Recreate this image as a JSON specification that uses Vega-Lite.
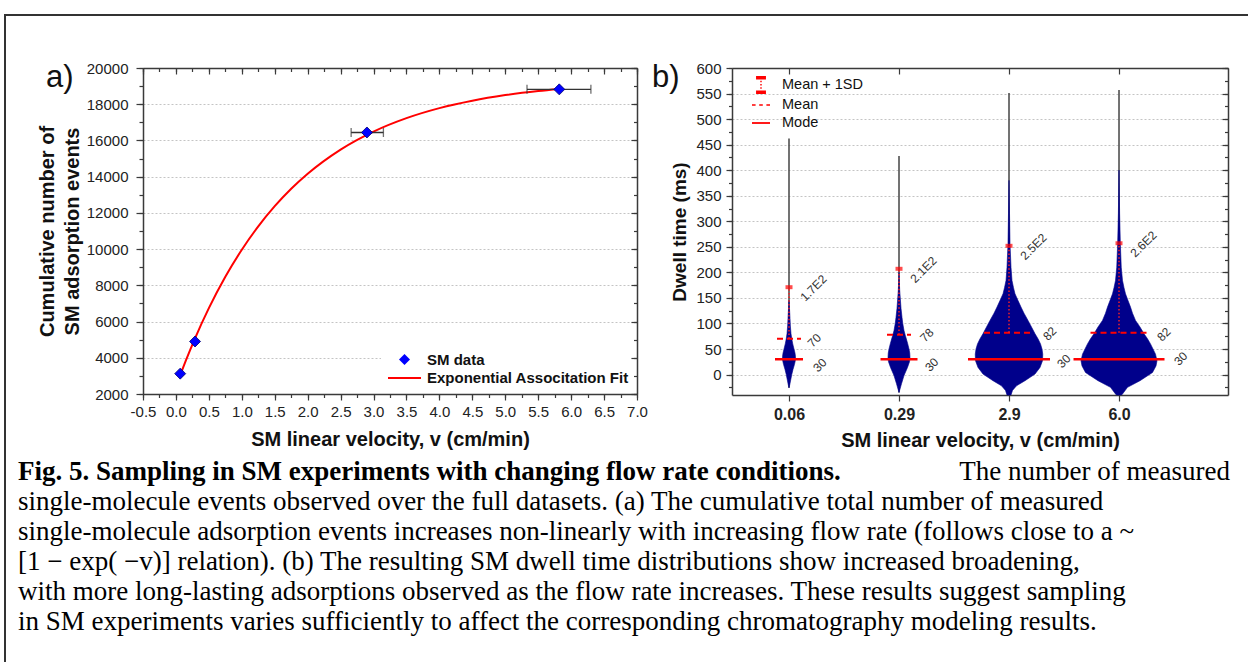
{
"$schema": "https://vega.github.io/schema/vega-lite/v6.json",
"padding": {"left": 4, "top": 14, "right": 0, "bottom": 0},
"background": "white",
"config": {
  "view": {"stroke": null},
  "axis": {"grid": false, "domainColor": "#3a3a3a", "domainWidth": 1.5, "tickColor": "#3a3a3a", "tickWidth": 1.2, "labelFont": "Liberation Sans", "titleFont": "Liberation Sans", "labelFontSize": 15, "labelColor": "#222222", "titleFontSize": 20, "titleFontWeight": "bold", "titleColor": "#111111", "labelFlush": false, "labelOverlap": false, "gridColor": "#c4c4c4", "gridDash": [2, 2], "gridWidth": 1},
  "legend": {"labelFont": "Liberation Sans", "labelLimit": 400},
  "title": {"font": "Liberation Sans"}
},
"datasets": {
  "fit": [{"v":0.06,"n":3000},{"v":0.15,"n":3845},{"v":0.29,"n":5075},{"v":0.5,"n":6739},{"v":0.75,"n":8471},{"v":1.0,"n":9965},{"v":1.25,"n":11256},{"v":1.5,"n":12369},{"v":1.75,"n":13330},{"v":2.0,"n":14162},{"v":2.5,"n":15497},{"v":3.0,"n":16491},{"v":3.5,"n":17232},{"v":4.0,"n":17785},{"v":4.5,"n":18196},{"v":5.0,"n":18503},{"v":5.5,"n":18731},{"v":5.82,"n":18846}],
  "pts": [{"v":0.065,"n":3125},{"v":0.29,"n":4900},{"v":2.9,"n":16440},{"v":5.82,"n":18820}],
  "err": [{"n":16440,"xlo":2.66,"xhi":3.15},{"n":18820,"xlo":5.33,"xhi":6.3}],
  "groups": [
    {"group":"0.06","min":-26,"max":462,"mode":30,"mean":70,"msd":171,"msdLabel":"1.7E2"},
    {"group":"0.29","min":-35,"max":428,"mode":30,"mean":78,"msd":207,"msdLabel":"2.1E2"},
    {"group":"2.9","min":-40,"max":551,"mode":30,"mean":82,"msd":252,"msdLabel":"2.5E2"},
    {"group":"6.0","min":-40,"max":557,"mode":30,"mean":82,"msd":257,"msdLabel":"2.6E2"}
  ],
  "v1": [{"v":-26,"density":0},{"v":-20,"density":1.5},{"v":-10,"density":3.5},{"v":0,"density":5.5},{"v":10,"density":8},{"v":20,"density":11},{"v":28,"density":12.8},{"v":35,"density":13},{"v":42,"density":12},{"v":50,"density":10},{"v":60,"density":7.5},{"v":70,"density":5.5},{"v":80,"density":4},{"v":95,"density":2.7},{"v":110,"density":2},{"v":125,"density":1.2},{"v":145,"density":0}],
  "v2": [{"v":-35,"density":0},{"v":-30,"density":1.5},{"v":-18,"density":5},{"v":-2,"density":10},{"v":14,"density":17},{"v":25,"density":21},{"v":33,"density":22},{"v":42,"density":21.5},{"v":50,"density":20},{"v":60,"density":17.5},{"v":67,"density":15.5},{"v":77,"density":12.5},{"v":86,"density":10},{"v":100,"density":7.5},{"v":112,"density":6},{"v":130,"density":4},{"v":150,"density":2.5},{"v":165,"density":1.4},{"v":185,"density":0.5},{"v":200,"density":0}],
  "v3": [{"v":-40,"density":4},{"v":-31,"density":7},{"v":-22,"density":15},{"v":-12,"density":32},{"v":1,"density":52},{"v":14,"density":62},{"v":27,"density":67},{"v":40,"density":67.5},{"v":50,"density":66},{"v":60,"density":63},{"v":70,"density":58},{"v":80,"density":52},{"v":93,"density":45},{"v":106,"density":38},{"v":120,"density":30},{"v":132,"density":24},{"v":145,"density":18},{"v":158,"density":12},{"v":170,"density":9},{"v":184,"density":6},{"v":210,"density":4},{"v":256,"density":2},{"v":316,"density":1},{"v":380,"density":0}],
  "v4": [{"v":-40,"density":5},{"v":-38,"density":7},{"v":-25,"density":17},{"v":-12,"density":42},{"v":4,"density":67},{"v":17,"density":74},{"v":27,"density":76},{"v":40,"density":73},{"v":50,"density":68},{"v":60,"density":63},{"v":70,"density":57},{"v":80,"density":50},{"v":93,"density":42},{"v":106,"density":33},{"v":120,"density":27},{"v":132,"density":23},{"v":145,"density":18},{"v":158,"density":13},{"v":170,"density":10},{"v":184,"density":7},{"v":210,"density":4.5},{"v":256,"density":2.7},{"v":316,"density":1.2},{"v":400,"density":0}],
  "captionBold": [{"line":1,"text":"Fig. 5. Sampling in SM experiments with changing flow rate conditions."}],
  "captionRight": [{"line":1,"text":"The number of measured"}],
  "captionBody": [
    {"line":2,"text":"single-molecule events observed over the full datasets. (a) The cumulative total number of measured"},
    {"line":3,"text":"single-molecule adsorption events increases non-linearly with increasing flow rate (follows close to a ~"},
    {"line":4,"text":"[1 − exp( −v)] relation). (b) The resulting SM dwell time distributions show increased broadening,"},
    {"line":5,"text":"with more long-lasting adsorptions observed as the flow rate increases. These results suggest sampling"},
    {"line":6,"text":"in SM experiments varies sufficiently to affect the corresponding chromatography modeling results."}
  ]
},
"spacing": 0,
"resolve": {"scale": {"color": "independent", "shape": "independent"}, "legend": {"color": "independent", "shape": "independent"}},
"vconcat": [
  {"width": 1244, "height": 2, "view": {"fill": "#333333", "stroke": null}, "data": {"values": []}, "mark": "point"},
  {"spacing": 31,
   "resolve": {"scale": {"color": "independent", "shape": "independent"}, "legend": {"color": "independent", "shape": "independent"}},
   "hconcat": [
    {"width": 2, "height": 440, "view": {"fill": "#333333", "stroke": null}, "data": {"values": []}, "mark": "point"},
    {"spacing": 44,
     "resolve": {"scale": {"color": "independent", "shape": "independent"}, "legend": {"color": "independent", "shape": "independent"}},
     "vconcat": [
      {"width": 1, "height": 1, "data": {"values": []}, "mark": "point"},
      {"spacing": 95, "bounds": "flush",
       "resolve": {"scale": {"color": "independent", "shape": "independent"}, "legend": {"color": "independent", "shape": "independent"}},
       "hconcat": [
        {
          "width": 494, "height": 326,
          "title": {"text": "a)", "orient": "top", "anchor": "start", "frame": "group", "offset": 0, "fontSize": 31, "fontWeight": "normal", "color": "#111111", "baseline": "top", "dx": -97, "dy": 33},
          "resolve": {"axis": {"x": "independent", "y": "independent"}},
          "layer": [
            {"data": {"name": "fit"}, "mark": {"type": "line", "color": "#ff0000", "strokeWidth": 2, "interpolate": "monotone"},
             "encoding": {
               "x": {"field": "v", "type": "quantitative", "scale": {"domain": [-0.5, 7], "nice": false, "zero": false},
                     "axis": {"orient": "bottom", "values": [-0.5,0,0.5,1,1.5,2,2.5,3,3.5,4,4.5,5,5.5,6,6.5,7], "labelExpr": "datum.value < 0 ? '-' + format(-datum.value, '.1f') : format(datum.value, '.1f')", "tickSize": 6, "labelPadding": 4, "title": "SM linear velocity, v (cm/min)", "titlePadding": 10}},
               "y": {"field": "n", "type": "quantitative", "scale": {"domain": [2000, 20000], "nice": false, "zero": false},
                     "axis": {"orient": "left", "values": [2000,4000,6000,8000,10000,12000,14000,16000,18000,20000], "format": "d", "tickSize": 7, "labelPadding": 8, "grid": true, "title": ["Cumulative number of", "SM adsorption events"], "titlePadding": 4, "titleLineHeight": 25}}
             }},
            {"data": {"name": "err"}, "mark": {"type": "rule", "color": "#333333", "strokeWidth": 1.3},
             "encoding": {
               "x": {"field": "xlo", "type": "quantitative", "scale": {"domain": [-0.5, 7], "nice": false, "zero": false},
                     "axis": {"orient": "bottom", "values": [-0.5,-0.25,0,0.25,0.5,0.75,1,1.25,1.5,1.75,2,2.25,2.5,2.75,3,3.25,3.5,3.75,4,4.25,4.5,4.75,5,5.25,5.5,5.75,6,6.25,6.5,6.75,7], "tickSize": 3.5, "labels": false, "domain": false, "title": null}},
               "x2": {"field": "xhi"},
               "y": {"field": "n", "type": "quantitative", "scale": {"domain": [2000, 20000], "nice": false, "zero": false},
                     "axis": {"orient": "left", "values": [2000,3000,4000,5000,6000,7000,8000,9000,10000,11000,12000,13000,14000,15000,16000,17000,18000,19000,20000], "tickSize": 4, "labels": false, "domain": false, "title": null}}
             }},
            {"data": {"name": "err"}, "mark": {"type": "tick", "orient": "vertical", "color": "#333333", "thickness": 1.3, "size": 9},
             "encoding": {
               "x": {"field": "xlo", "type": "quantitative", "scale": {"domain": [-0.5, 7], "nice": false, "zero": false},
                     "axis": {"orient": "top", "values": [-0.5,0,0.5,1,1.5,2,2.5,3,3.5,4,4.5,5,5.5,6,6.5,7], "tickSize": -6, "labels": false, "title": null}},
               "y": {"field": "n", "type": "quantitative", "scale": {"domain": [2000, 20000], "nice": false, "zero": false},
                     "axis": {"orient": "right", "values": [2000,4000,6000,8000,10000,12000,14000,16000,18000,20000], "tickSize": -6, "labels": false, "title": null}}
             }},
            {"data": {"name": "err"}, "mark": {"type": "tick", "orient": "vertical", "color": "#333333", "thickness": 1.3, "size": 9},
             "encoding": {
               "x": {"field": "xhi", "type": "quantitative", "scale": {"domain": [-0.5, 7], "nice": false, "zero": false},
                     "axis": {"orient": "top", "values": [-0.5,-0.25,0,0.25,0.5,0.75,1,1.25,1.5,1.75,2,2.25,2.5,2.75,3,3.25,3.5,3.75,4,4.25,4.5,4.75,5,5.25,5.5,5.75,6,6.25,6.5,6.75,7], "tickSize": -3.5, "labels": false, "domain": false, "title": null}},
               "y": {"field": "n", "type": "quantitative", "scale": {"domain": [2000, 20000], "nice": false, "zero": false},
                     "axis": {"orient": "right", "values": [2000,3000,4000,5000,6000,7000,8000,9000,10000,11000,12000,13000,14000,15000,16000,17000,18000,19000,20000], "tickSize": -3.5, "labels": false, "domain": false, "title": null}}
             }},
            {"data": {"name": "pts"}, "mark": {"type": "point", "shape": "diamond", "filled": true, "size": 121, "color": "#0000ff", "stroke": "#00006e", "strokeWidth": 0.8, "opacity": 1},
             "encoding": {
               "x": {"field": "v", "type": "quantitative", "scale": {"domain": [-0.5, 7], "nice": false, "zero": false}, "axis": null},
               "y": {"field": "n", "type": "quantitative", "scale": {"domain": [2000, 20000], "nice": false, "zero": false}, "axis": null}
             }},
            {"data": {"values": []}, "mark": {"type": "point", "filled": true, "opacity": 1},
             "encoding": {
               "color": {"field": "series", "type": "nominal", "scale": {"domain": ["SM data", "Exponential Associtation Fit"], "range": ["#0000ff", "#ff0000"]},
                         "legend": {"title": null, "orient": "bottom-right", "offset": 6, "labelFontSize": 15, "labelFontWeight": "bold", "labelColor": "#111111", "symbolSize": 121, "symbolStrokeWidth": 0, "labelOffset": 15, "symbolOffset": 14, "rowPadding": 2.5, "fillColor": "white", "padding": 2}},
               "shape": {"field": "series", "type": "nominal", "scale": {"domain": ["SM data", "Exponential Associtation Fit"], "range": ["diamond", "M-3,-0.18H3V0.18H-3Z"]},
                         "legend": {"title": null, "orient": "bottom-right", "offset": 6, "labelFontSize": 15, "labelFontWeight": "bold", "labelColor": "#111111", "symbolSize": 121, "symbolStrokeWidth": 0, "labelOffset": 15, "symbolOffset": 14, "rowPadding": 2.5, "fillColor": "white", "padding": 2}}
             }}
          ]
        },
        {
          "width": 496, "height": 327,
          "title": {"text": "b)", "orient": "top", "anchor": "start", "frame": "group", "offset": 0, "fontSize": 31, "fontWeight": "normal", "color": "#111111", "baseline": "top", "dx": -80, "dy": 33},
          "resolve": {"scale": {"x": "independent"}, "axis": {"x": "independent", "y": "independent"}},
          "layer": [
            {"data": {"name": "groups"}, "mark": {"type": "rule", "color": "#444444", "strokeWidth": 1.5},
             "encoding": {
               "x": {"field": "group", "type": "nominal", "scale": {"type": "point", "domain": ["0.06","0.29","2.9","6.0"], "padding": 0.7545, "align": 0.3434},
                     "axis": {"orient": "bottom", "tickSize": 6, "labelPadding": 5, "labelFontSize": 16, "labelFontWeight": "bold", "labelAngle": 0, "title": "SM linear velocity, v (cm/min)", "titlePadding": 8}},
               "y": {"field": "min", "type": "quantitative", "scale": {"domain": [-40, 600], "nice": false, "zero": false},
                     "axis": {"orient": "left", "values": [0,50,100,150,200,250,300,350,400,450,500,550,600], "tickSize": 6, "labelPadding": 5, "grid": true, "title": "Dwell time (ms)", "titleFontSize": 19, "titlePadding": 6}},
               "y2": {"field": "max"}
             }},
            {"data": {"name": "v1"}, "mark": {"type": "area", "orient": "horizontal", "color": "#00008b", "stroke": "#00008b", "strokeWidth": 0.6},
             "encoding": {
               "y": {"field": "v", "type": "quantitative", "scale": {"domain": [-40, 600], "nice": false, "zero": false}, "axis": null},
               "x": {"field": "density", "type": "quantitative", "stack": "center", "scale": {"domain": [-50.5, 445.5], "nice": false, "zero": false}, "axis": null}
             }},
            {"data": {"name": "v2"}, "mark": {"type": "area", "orient": "horizontal", "color": "#00008b", "stroke": "#00008b", "strokeWidth": 0.6},
             "encoding": {
               "y": {"field": "v", "type": "quantitative", "scale": {"domain": [-40, 600], "nice": false, "zero": false}, "axis": null},
               "x": {"field": "density", "type": "quantitative", "stack": "center", "scale": {"domain": [-156, 340], "nice": false, "zero": false}, "axis": null}
             }},
            {"data": {"name": "v3"}, "mark": {"type": "area", "orient": "horizontal", "color": "#00008b", "stroke": "#00008b", "strokeWidth": 0.6},
             "encoding": {
               "y": {"field": "v", "type": "quantitative", "scale": {"domain": [-40, 600], "nice": false, "zero": false}, "axis": null},
               "x": {"field": "density", "type": "quantitative", "stack": "center", "scale": {"domain": [-243.25, 252.75], "nice": false, "zero": false}, "axis": null}
             }},
            {"data": {"name": "v4"}, "mark": {"type": "area", "orient": "horizontal", "color": "#00008b", "stroke": "#00008b", "strokeWidth": 0.6},
             "encoding": {
               "y": {"field": "v", "type": "quantitative", "scale": {"domain": [-40, 600], "nice": false, "zero": false}, "axis": null},
               "x": {"field": "density", "type": "quantitative", "stack": "center", "scale": {"domain": [-349, 147], "nice": false, "zero": false}, "axis": null}
             }},
            {"data": {"name": "groups"}, "transform": [{"filter": {"field": "group", "equal": "0.06"}}],
             "mark": {"type": "rule", "color": "#ff0000", "strokeWidth": 2.5, "xOffset": -14, "x2Offset": 14},
             "encoding": {
               "x": {"field": "group", "type": "nominal", "scale": {"type": "point", "domain": ["0.06","0.29","2.9","6.0"], "padding": 0.7545, "align": 0.3434},
                     "axis": {"orient": "top", "tickSize": -6, "labels": false, "title": null}},
               "x2": {"field": "group"},
               "y": {"field": "mode", "type": "quantitative", "scale": {"domain": [-40, 600], "nice": false, "zero": false},
                     "axis": {"orient": "right", "values": [0,50,100,150,200,250,300,350,400,450,500,550,600], "tickSize": -6, "labels": false, "title": null}}
             }},
            {"data": {"name": "groups"}, "transform": [{"filter": {"field": "group", "equal": "0.29"}}],
             "mark": {"type": "rule", "color": "#ff0000", "strokeWidth": 2.5, "xOffset": -18.5, "x2Offset": 18.5},
             "encoding": {
               "x": {"field": "group", "type": "nominal", "scale": {"type": "point", "domain": ["0.06","0.29","2.9","6.0"], "padding": 0.7545, "align": 0.3434}, "axis": null},
               "x2": {"field": "group"},
               "y": {"field": "mode", "type": "quantitative", "scale": {"domain": [-40, 600], "nice": false, "zero": false},
                     "axis": {"orient": "left", "values": [-25,0,25,50,75,100,125,150,175,200,225,250,275,300,325,350,375,400,425,450,475,500,525,550,575,600], "tickSize": 3.5, "labels": false, "domain": false, "title": null}}
             }},
            {"data": {"name": "groups"}, "transform": [{"filter": {"field": "group", "equal": "2.9"}}],
             "mark": {"type": "rule", "color": "#ff0000", "strokeWidth": 2.5, "xOffset": -41, "x2Offset": 41},
             "encoding": {
               "x": {"field": "group", "type": "nominal", "scale": {"type": "point", "domain": ["0.06","0.29","2.9","6.0"], "padding": 0.7545, "align": 0.3434}, "axis": null},
               "x2": {"field": "group"},
               "y": {"field": "mode", "type": "quantitative", "scale": {"domain": [-40, 600], "nice": false, "zero": false},
                     "axis": {"orient": "right", "values": [-25,0,25,50,75,100,125,150,175,200,225,250,275,300,325,350,375,400,425,450,475,500,525,550,575,600], "tickSize": -3.5, "labels": false, "domain": false, "title": null}}
             }},
            {"data": {"name": "groups"}, "transform": [{"filter": {"field": "group", "equal": "6.0"}}],
             "mark": {"type": "rule", "color": "#ff0000", "strokeWidth": 2.5, "xOffset": -45.5, "x2Offset": 45.5},
             "encoding": {
               "x": {"field": "group", "type": "nominal", "scale": {"type": "point", "domain": ["0.06","0.29","2.9","6.0"], "padding": 0.7545, "align": 0.3434}, "axis": null},
               "x2": {"field": "group"},
               "y": {"field": "mode", "type": "quantitative", "scale": {"domain": [-40, 600], "nice": false, "zero": false}, "axis": null}
             }},
            {"data": {"name": "groups"}, "transform": [{"filter": {"field": "group", "equal": "0.06"}}],
             "mark": {"type": "rule", "color": "#ff0000", "strokeWidth": 2, "strokeDash": [6, 4], "xOffset": -12, "x2Offset": 12},
             "encoding": {
               "x": {"field": "group", "type": "nominal", "scale": {"type": "point", "domain": ["0.06","0.29","2.9","6.0"], "padding": 0.7545, "align": 0.3434}, "axis": null},
               "x2": {"field": "group"},
               "y": {"field": "mean", "type": "quantitative", "scale": {"domain": [-40, 600], "nice": false, "zero": false}, "axis": null}
             }},
            {"data": {"name": "groups"}, "transform": [{"filter": {"field": "group", "equal": "0.29"}}],
             "mark": {"type": "rule", "color": "#ff0000", "strokeWidth": 2, "strokeDash": [6, 4], "xOffset": -12, "x2Offset": 12},
             "encoding": {
               "x": {"field": "group", "type": "nominal", "scale": {"type": "point", "domain": ["0.06","0.29","2.9","6.0"], "padding": 0.7545, "align": 0.3434}, "axis": null},
               "x2": {"field": "group"},
               "y": {"field": "mean", "type": "quantitative", "scale": {"domain": [-40, 600], "nice": false, "zero": false}, "axis": null}
             }},
            {"data": {"name": "groups"}, "transform": [{"filter": {"field": "group", "equal": "2.9"}}],
             "mark": {"type": "rule", "color": "#ff0000", "strokeWidth": 2, "strokeDash": [6, 4], "xOffset": -25, "x2Offset": 25},
             "encoding": {
               "x": {"field": "group", "type": "nominal", "scale": {"type": "point", "domain": ["0.06","0.29","2.9","6.0"], "padding": 0.7545, "align": 0.3434}, "axis": null},
               "x2": {"field": "group"},
               "y": {"field": "mean", "type": "quantitative", "scale": {"domain": [-40, 600], "nice": false, "zero": false}, "axis": null}
             }},
            {"data": {"name": "groups"}, "transform": [{"filter": {"field": "group", "equal": "6.0"}}],
             "mark": {"type": "rule", "color": "#ff0000", "strokeWidth": 2, "strokeDash": [6, 4], "xOffset": -28.5, "x2Offset": 28.5},
             "encoding": {
               "x": {"field": "group", "type": "nominal", "scale": {"type": "point", "domain": ["0.06","0.29","2.9","6.0"], "padding": 0.7545, "align": 0.3434}, "axis": null},
               "x2": {"field": "group"},
               "y": {"field": "mean", "type": "quantitative", "scale": {"domain": [-40, 600], "nice": false, "zero": false}, "axis": null}
             }},
            {"data": {"name": "groups"}, "mark": {"type": "rule", "color": "#ff2020", "strokeWidth": 1.6, "strokeDash": [1.5, 2.2], "opacity": 0.9},
             "encoding": {
               "x": {"field": "group", "type": "nominal", "scale": {"type": "point", "domain": ["0.06","0.29","2.9","6.0"], "padding": 0.7545, "align": 0.3434}, "axis": null},
               "y": {"field": "mean", "type": "quantitative", "scale": {"domain": [-40, 600], "nice": false, "zero": false}, "axis": null},
               "y2": {"field": "msd"}
             }},
            {"data": {"name": "groups"}, "mark": {"type": "tick", "orient": "horizontal", "color": "#ff0000", "thickness": 4, "size": 7},
             "encoding": {
               "x": {"field": "group", "type": "nominal", "scale": {"type": "point", "domain": ["0.06","0.29","2.9","6.0"], "padding": 0.7545, "align": 0.3434}, "axis": null},
               "y": {"field": "msd", "type": "quantitative", "scale": {"domain": [-40, 600], "nice": false, "zero": false}, "axis": null}
             }},
            {"data": {"name": "groups"}, "mark": {"type": "text", "angle": 315, "align": "left", "baseline": "middle", "dx": 1, "dy": 18, "fontSize": 12, "color": "#333333", "font": "Liberation Sans"},
             "encoding": {
               "x": {"field": "group", "type": "nominal", "scale": {"type": "point", "domain": ["0.06","0.29","2.9","6.0"], "padding": 0.7545, "align": 0.3434}, "axis": null},
               "y": {"field": "msd", "type": "quantitative", "scale": {"domain": [-40, 600], "nice": false, "zero": false}, "axis": null},
               "text": {"field": "msdLabel"}
             }},
            {"data": {"name": "groups"}, "transform": [{"filter": {"field": "group", "equal": "0.06"}}],
             "mark": {"type": "text", "angle": 315, "align": "left", "baseline": "middle", "dx": 11, "dy": 26, "fontSize": 12, "color": "#333333", "font": "Liberation Sans"},
             "encoding": {
               "x": {"field": "group", "type": "nominal", "scale": {"type": "point", "domain": ["0.06","0.29","2.9","6.0"], "padding": 0.7545, "align": 0.3434}, "axis": null},
               "y": {"field": "mode", "type": "quantitative", "scale": {"domain": [-40, 600], "nice": false, "zero": false}, "axis": null},
               "text": {"field": "mode", "type": "quantitative"}
             }},
            {"data": {"name": "groups"}, "transform": [{"filter": {"field": "group", "equal": "0.29"}}],
             "mark": {"type": "text", "angle": 315, "align": "left", "baseline": "middle", "dx": 12.7, "dy": 27, "fontSize": 12, "color": "#333333", "font": "Liberation Sans"},
             "encoding": {
               "x": {"field": "group", "type": "nominal", "scale": {"type": "point", "domain": ["0.06","0.29","2.9","6.0"], "padding": 0.7545, "align": 0.3434}, "axis": null},
               "y": {"field": "mode", "type": "quantitative", "scale": {"domain": [-40, 600], "nice": false, "zero": false}, "axis": null},
               "text": {"field": "mode", "type": "quantitative"}
             }},
            {"data": {"name": "groups"}, "transform": [{"filter": {"field": "group", "equal": "2.9"}}],
             "mark": {"type": "text", "angle": 315, "align": "left", "baseline": "middle", "dx": 30.8, "dy": 40.3, "fontSize": 12, "color": "#333333", "font": "Liberation Sans"},
             "encoding": {
               "x": {"field": "group", "type": "nominal", "scale": {"type": "point", "domain": ["0.06","0.29","2.9","6.0"], "padding": 0.7545, "align": 0.3434}, "axis": null},
               "y": {"field": "mode", "type": "quantitative", "scale": {"domain": [-40, 600], "nice": false, "zero": false}, "axis": null},
               "text": {"field": "mode", "type": "quantitative"}
             }},
            {"data": {"name": "groups"}, "transform": [{"filter": {"field": "group", "equal": "6.0"}}],
             "mark": {"type": "text", "angle": 315, "align": "left", "baseline": "middle", "dx": 37.4, "dy": 43.3, "fontSize": 12, "color": "#333333", "font": "Liberation Sans"},
             "encoding": {
               "x": {"field": "group", "type": "nominal", "scale": {"type": "point", "domain": ["0.06","0.29","2.9","6.0"], "padding": 0.7545, "align": 0.3434}, "axis": null},
               "y": {"field": "mode", "type": "quantitative", "scale": {"domain": [-40, 600], "nice": false, "zero": false}, "axis": null},
               "text": {"field": "mode", "type": "quantitative"}
             }},
            {"data": {"name": "groups"}, "transform": [{"filter": {"field": "group", "equal": "0.06"}}],
             "mark": {"type": "text", "angle": 315, "align": "left", "baseline": "middle", "dx": 10.1, "dy": 19, "fontSize": 12, "color": "#333333", "font": "Liberation Sans"},
             "encoding": {
               "x": {"field": "group", "type": "nominal", "scale": {"type": "point", "domain": ["0.06","0.29","2.9","6.0"], "padding": 0.7545, "align": 0.3434}, "axis": null},
               "y": {"field": "mean", "type": "quantitative", "scale": {"domain": [-40, 600], "nice": false, "zero": false}, "axis": null},
               "text": {"field": "mean", "type": "quantitative"}
             }},
            {"data": {"name": "groups"}, "transform": [{"filter": {"field": "group", "equal": "0.29"}}],
             "mark": {"type": "text", "angle": 315, "align": "left", "baseline": "middle", "dx": 12.6, "dy": 20.1, "fontSize": 12, "color": "#333333", "font": "Liberation Sans"},
             "encoding": {
               "x": {"field": "group", "type": "nominal", "scale": {"type": "point", "domain": ["0.06","0.29","2.9","6.0"], "padding": 0.7545, "align": 0.3434}, "axis": null},
               "y": {"field": "mean", "type": "quantitative", "scale": {"domain": [-40, 600], "nice": false, "zero": false}, "axis": null},
               "text": {"field": "mean", "type": "quantitative"}
             }},
            {"data": {"name": "groups"}, "transform": [{"filter": {"field": "group", "equal": "2.9"}}],
             "mark": {"type": "text", "angle": 315, "align": "left", "baseline": "middle", "dx": 21.5, "dy": 29.5, "fontSize": 12, "color": "#333333", "font": "Liberation Sans"},
             "encoding": {
               "x": {"field": "group", "type": "nominal", "scale": {"type": "point", "domain": ["0.06","0.29","2.9","6.0"], "padding": 0.7545, "align": 0.3434}, "axis": null},
               "y": {"field": "mean", "type": "quantitative", "scale": {"domain": [-40, 600], "nice": false, "zero": false}, "axis": null},
               "text": {"field": "mean", "type": "quantitative"}
             }},
            {"data": {"name": "groups"}, "transform": [{"filter": {"field": "group", "equal": "6.0"}}],
             "mark": {"type": "text", "angle": 315, "align": "left", "baseline": "middle", "dx": 23.7, "dy": 33, "fontSize": 12, "color": "#333333", "font": "Liberation Sans"},
             "encoding": {
               "x": {"field": "group", "type": "nominal", "scale": {"type": "point", "domain": ["0.06","0.29","2.9","6.0"], "padding": 0.7545, "align": 0.3434}, "axis": null},
               "y": {"field": "mean", "type": "quantitative", "scale": {"domain": [-40, 600], "nice": false, "zero": false}, "axis": null},
               "text": {"field": "mean", "type": "quantitative"}
             }},
            {"data": {"values": []}, "mark": {"type": "point", "filled": true, "color": "#ff0000", "opacity": 1},
             "encoding": {
               "shape": {"field": "stat", "type": "nominal",
                         "scale": {"domain": ["Mean + 1SD", "Mean", "Mode"], "range": ["M-0.55,-1H0.55V-0.62H-0.55Z M-0.55,0.62H0.55V1H-0.55Z M-0.08,-0.48H0.08V-0.3H-0.08Z M-0.08,-0.12H0.08V0.06H-0.08Z M-0.08,0.24H0.08V0.42H-0.08Z", "M-1,-0.09H-0.6V0.09H-1Z M-0.2,-0.09H0.2V0.09H-0.2Z M0.6,-0.09H1V0.09H0.6Z", "M-1,-0.1H1V0.1H-1Z"]},
                         "legend": {"title": null, "orient": "top-left", "offset": 8, "symbolOffset": 12, "symbolSize": 324, "labelFontSize": 14.5, "labelOffset": 12, "rowPadding": 2, "symbolStrokeWidth": 0, "symbolFillColor": "#ff0000", "labelColor": "#111111"}}
             }}
          ]
        }
      ]}
    ]}
  ]},
  {"spacing": 12, "hconcat": [
    {"width": 2, "height": 206, "view": {"fill": "#333333", "stroke": null}, "data": {"values": []}, "mark": "point"},
    {"width": 1212, "height": 198,
     "layer": [
       {"data": {"name": "captionBold"}, "mark": {"type": "text", "align": "left", "baseline": "alphabetic", "font": "Liberation Serif", "fontSize": 27, "fontWeight": "bold", "color": "#000000"},
        "encoding": {
          "x": {"datum": 0, "type": "quantitative", "scale": {"domain": [0, 1], "nice": false, "zero": false}, "axis": null},
          "y": {"field": "line", "type": "ordinal", "scale": {"type": "point", "domain": [1,2,3,4,5,6], "padding": 0.8}, "axis": null},
          "text": {"field": "text"}
        }},
       {"data": {"name": "captionRight"}, "mark": {"type": "text", "align": "right", "baseline": "alphabetic", "font": "Liberation Serif", "fontSize": 27, "color": "#000000"},
        "encoding": {
          "x": {"datum": 1, "type": "quantitative", "scale": {"domain": [0, 1], "nice": false, "zero": false}, "axis": null},
          "y": {"field": "line", "type": "ordinal", "scale": {"type": "point", "domain": [1,2,3,4,5,6], "padding": 0.8}, "axis": null},
          "text": {"field": "text"}
        }},
       {"data": {"name": "captionBody"}, "mark": {"type": "text", "align": "left", "baseline": "alphabetic", "font": "Liberation Serif", "fontSize": 27, "color": "#000000"},
        "encoding": {
          "x": {"datum": 0, "type": "quantitative", "scale": {"domain": [0, 1], "nice": false, "zero": false}, "axis": null},
          "y": {"field": "line", "type": "ordinal", "scale": {"type": "point", "domain": [1,2,3,4,5,6], "padding": 0.8}, "axis": null},
          "text": {"field": "text"}
        }}
     ]}
  ]}
]
}
